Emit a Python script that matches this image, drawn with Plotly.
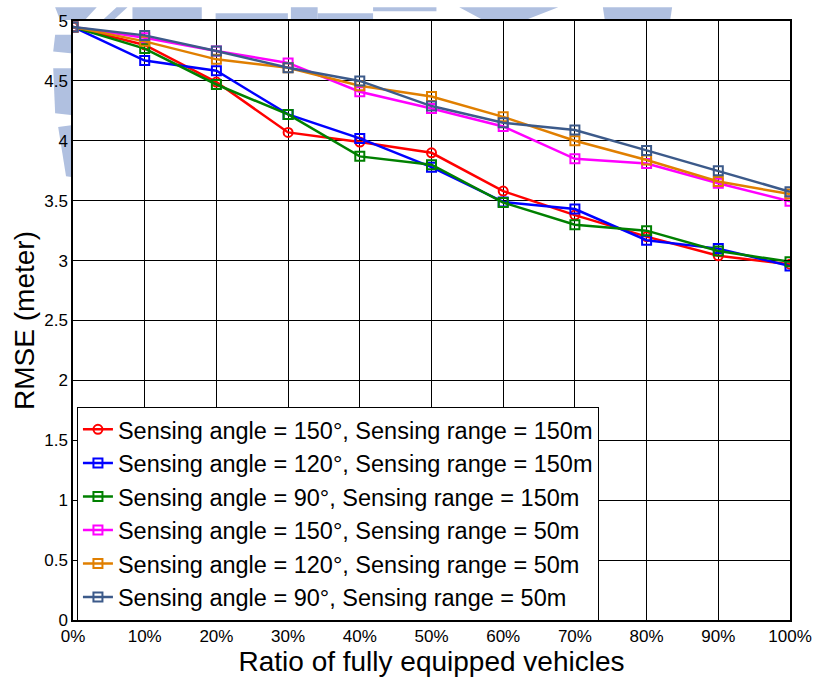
import plotly.graph_objects as go

# Ratio of fully equipped vehicles (%)
ratio = [0, 10, 20, 30, 40, 50, 60, 70, 80, 90, 100]

# RMSE (meter) per sensing configuration
rmse_a150_r150 = [4.95, 4.80, 4.49, 4.07, 3.99, 3.90, 3.58, 3.38, 3.20, 3.04, 2.97]
rmse_a120_r150 = [4.95, 4.67, 4.585, 4.22, 4.02, 3.78, 3.49, 3.43, 3.17, 3.10, 2.955]
rmse_a90_r150 = [4.95, 4.77, 4.47, 4.22, 3.87, 3.80, 3.485, 3.30, 3.25, 3.08, 2.99]
rmse_a150_r50 = [4.95, 4.86, 4.75, 4.65, 4.41, 4.27, 4.12, 3.85, 3.81, 3.645, 3.495]
rmse_a120_r50 = [4.95, 4.83, 4.68, 4.61, 4.46, 4.37, 4.20, 4.00, 3.84, 3.66, 3.555]
rmse_a90_r50 = [4.95, 4.88, 4.75, 4.61, 4.50, 4.29, 4.15, 4.09, 3.92, 3.75, 3.575]

series_names = [
    "Sensing angle = 150°, Sensing range = 150m",
    "Sensing angle = 120°, Sensing range = 150m",
    "Sensing angle = 90°, Sensing range = 150m",
    "Sensing angle = 150°, Sensing range = 50m",
    "Sensing angle = 120°, Sensing range = 50m",
    "Sensing angle = 90°, Sensing range = 50m",
]
series_values = [rmse_a150_r150, rmse_a120_r150, rmse_a90_r150,
                 rmse_a150_r50, rmse_a120_r50, rmse_a90_r50]
series_colors = ["#ff0000", "#0000ff", "#008000", "#ff00ff", "#e07f00", "#3c5a8a"]
series_symbols = ["circle-open"] + ["square-open"] * 5

x_ticks = list(range(0, 101, 10))
x_tick_text = [f"{v}%" for v in x_ticks]
y_ticks = [0, 0.5, 1, 1.5, 2, 2.5, 3, 3.5, 4, 4.5, 5]
y_tick_text = ["0", "0.5", "1", "1.5", "2", "2.5", "3", "3.5", "4", "4.5", "5"]

W, H = 824, 682
ML, MR, MT, MB = 73, 27, 14, 58
PW, PH = W - ML - MR, H - MT - MB

fig = go.Figure()
for name, vals, col, sym in zip(series_names, series_values, series_colors, series_symbols):
    fig.add_trace(go.Scatter(
        x=ratio, y=vals, name=name, mode="lines+markers",
        line=dict(color=col, width=2.5),
        marker=dict(symbol=sym, size=9, color=col, line=dict(color=col, width=2)),
    ))


def to_paper(px, py):
    return (px - ML) / PW, (H - MB - py) / PH


def emblem_path(points):
    pts = [to_paper(x, y) for x, y in points]
    return "M " + " L ".join(f"{a:.4f},{b:.4f}" for a, b in pts) + " Z"


# faint emblem fragments peeking out around the axes box
emblem_parts = [
    [(55, 0), (97, 0), (85, 13), (60, 13)],
    [(117, 0), (128, 0), (114, 13), (103, 13)],
    [(133, 0), (203, 0), (203, 13), (133, 13)],
    [(217, 6), (290, 6), (290, 13), (217, 13)],
    [(293, 0), (320, 0), (320, 13), (293, 13)],
    [(320, 6), (376, 6), (376, 13), (320, 13)],
    [(376, 0), (440, 0), (440, 4), (376, 4)],
    [(463, 0), (563, 0), (530, 13), (487, 13)],
    [(608, 0), (678, 0), (676, 13), (610, 13)],
    [(55, 28), (73, 28), (73, 47), (53, 45)],
    [(53, 62), (73, 62), (73, 110), (55, 108)],
    [(58, 122), (73, 120), (73, 173), (66, 172)],
]
shapes = [dict(type="path", xref="paper", yref="paper", path=emblem_path(p),
               fillcolor="#b0c0e0", line=dict(width=0), layer="below")
          for p in emblem_parts]

axis_common = dict(
    showline=True, linecolor="black", linewidth=1.5, mirror="ticks",
    ticks="inside", ticklen=6, tickcolor="black", tickwidth=1,
    showgrid=True, gridcolor="black", gridwidth=1, zeroline=False,
    tickfont=dict(family="Liberation Sans, Arial", size=17, color="black"),
)

fig.update_layout(
    width=W, height=H,
    margin=dict(l=ML, r=MR, t=MT, b=MB),
    paper_bgcolor="white", plot_bgcolor="white",
    shapes=shapes,
    font=dict(family="Liberation Sans, Arial", color="black"),
    xaxis=dict(range=[0, 100], tickvals=x_ticks, ticktext=x_tick_text,
               title=dict(text="Ratio of fully equipped vehicles",
                          font=dict(size=28), standoff=4),
               **axis_common),
    yaxis=dict(range=[0, 5], tickvals=y_ticks, ticktext=y_tick_text,
               title=dict(text="RMSE (meter)", font=dict(size=28), standoff=1),
               **axis_common),
    legend=dict(x=0.0055, y=-0.001, xanchor="left", yanchor="bottom",
                bgcolor="white", bordercolor="black", borderwidth=1,
                font=dict(size=23.5), tracegroupgap=0),
    showlegend=True,
)

fig.write_html("out.html")
